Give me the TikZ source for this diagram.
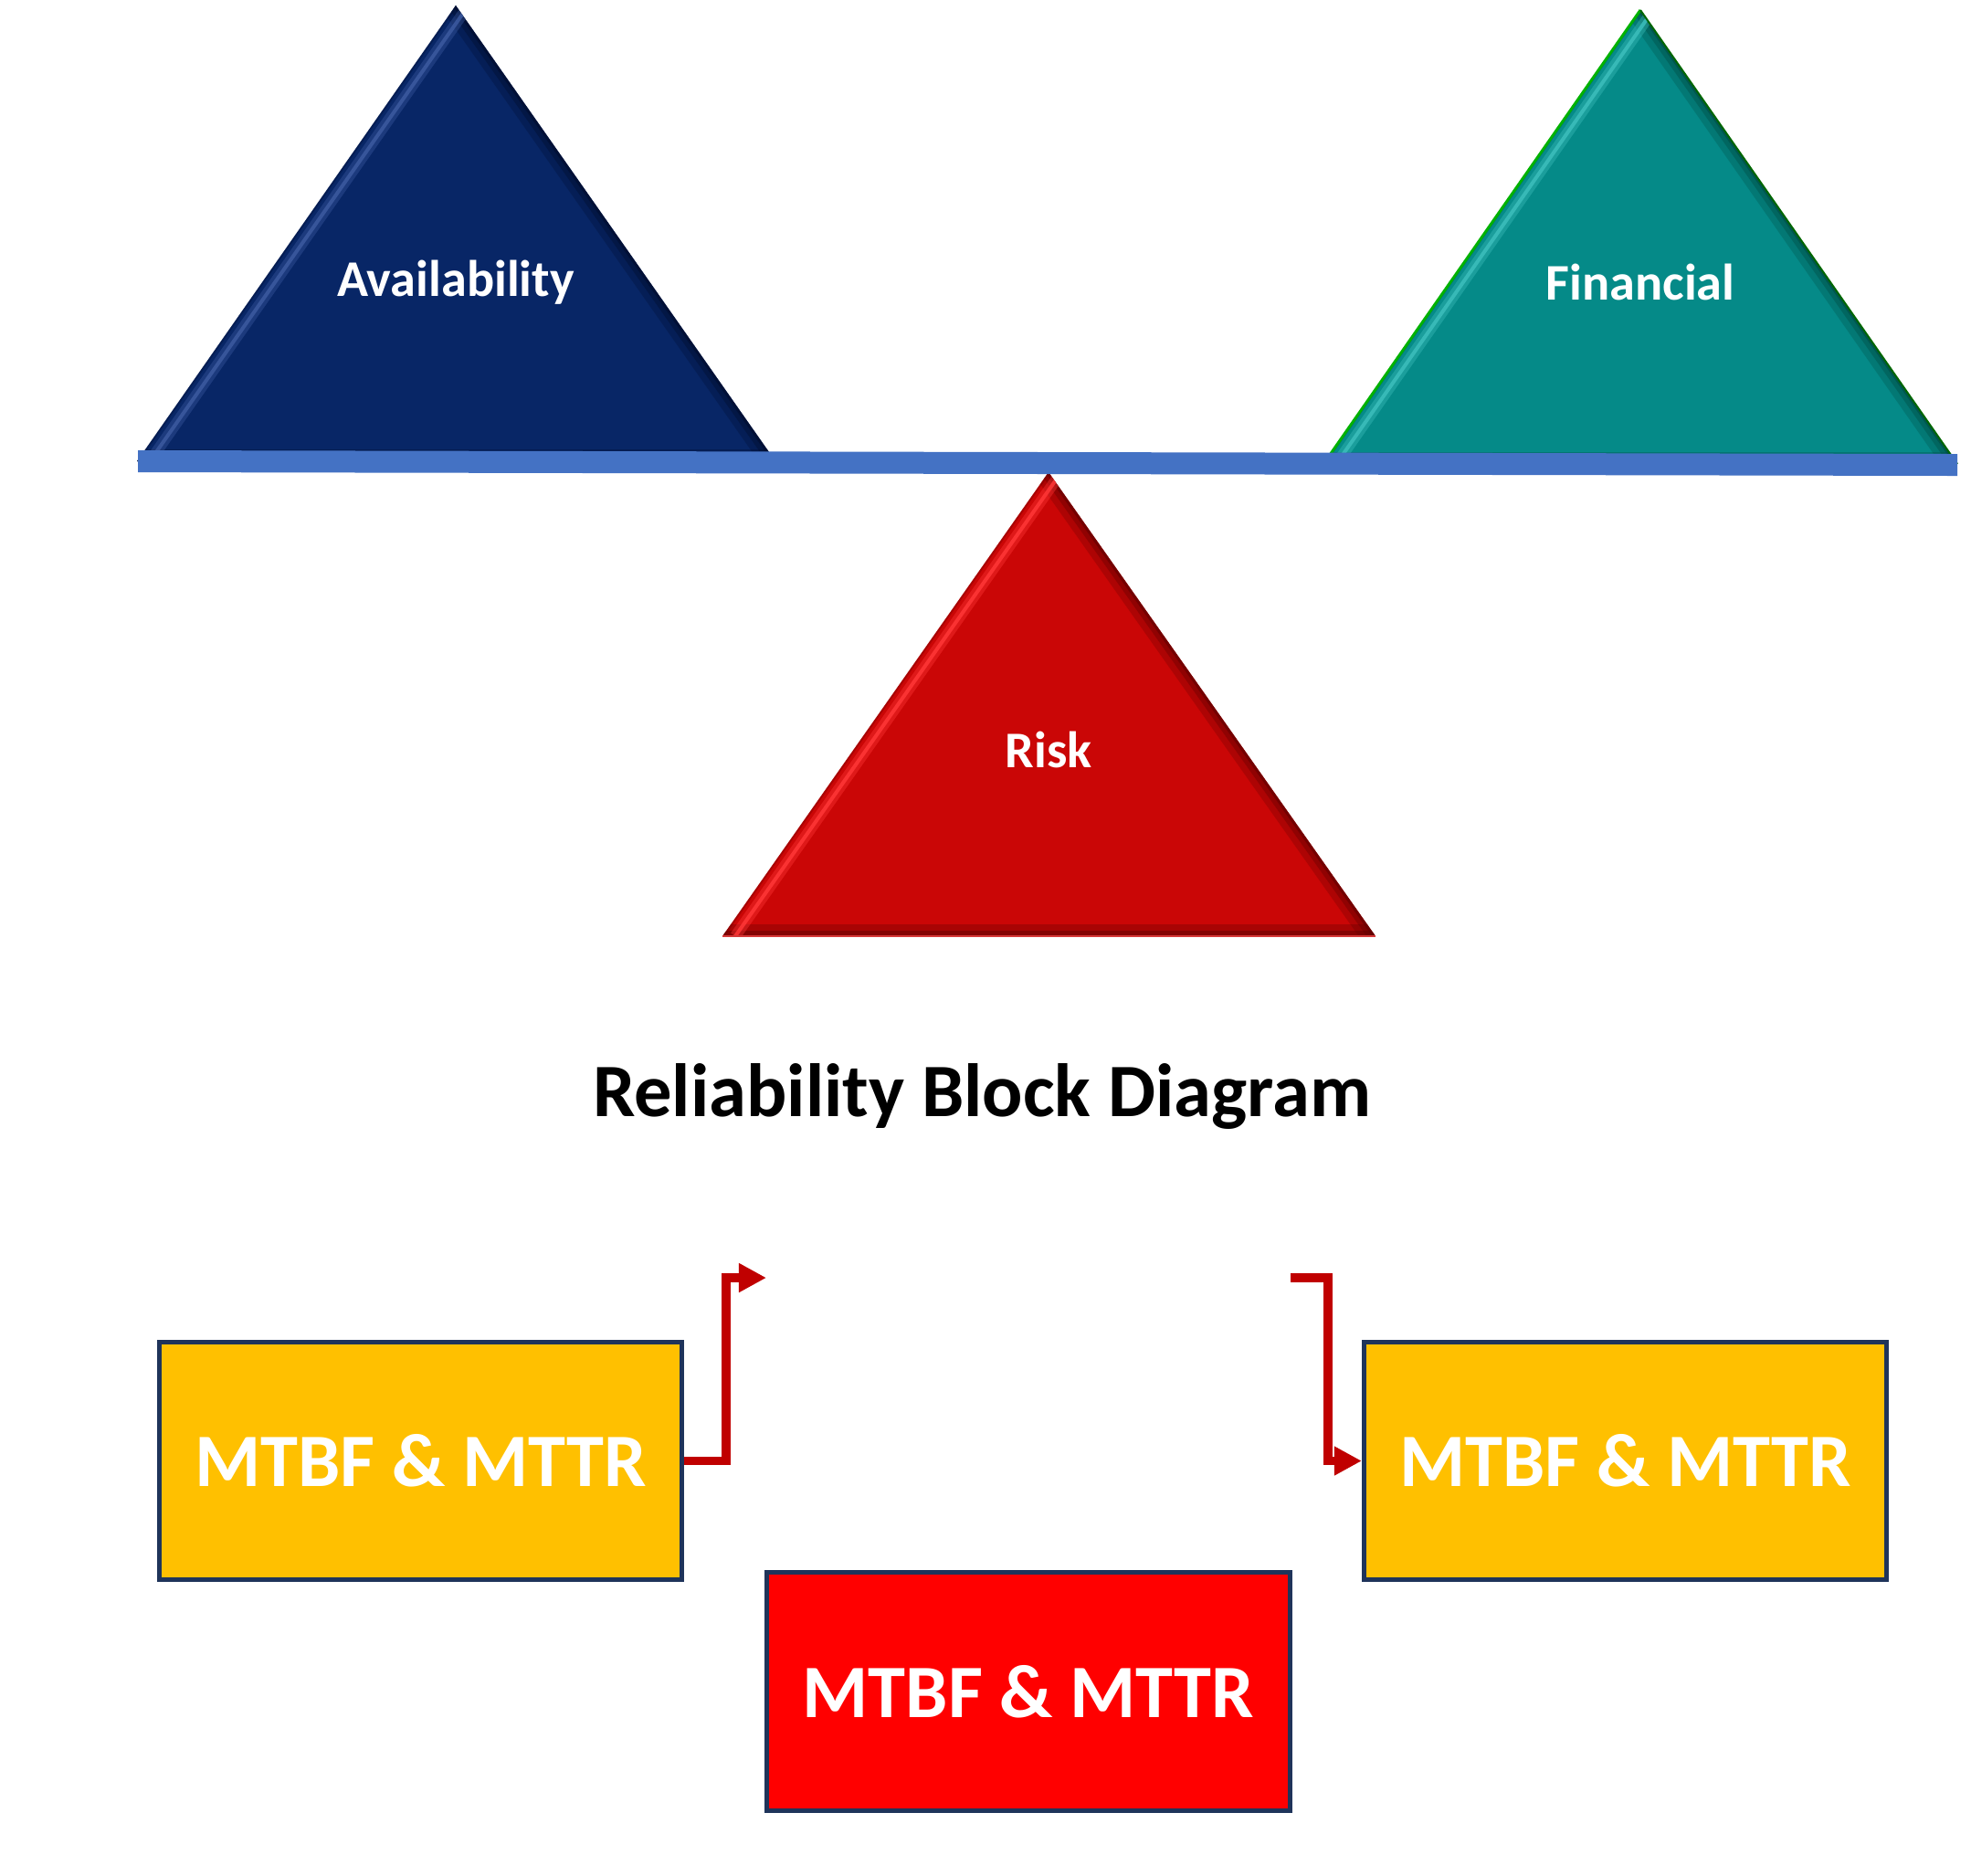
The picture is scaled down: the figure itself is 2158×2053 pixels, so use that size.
\documentclass[tikz,border=0pt]{standalone}
\usepackage{fontspec}
\setmainfont{Carlito}
\usetikzlibrary{arrows.meta}
\definecolor{availc}{RGB}{8,38,102}
\definecolor{availl}{RGB}{60,90,160}
\definecolor{availd}{RGB}{0,10,40}
\definecolor{finc}{RGB}{5,138,136}
\definecolor{finl}{RGB}{60,190,188}
\definecolor{find}{RGB}{0,70,60}
\definecolor{riskc}{RGB}{202,6,6}
\definecolor{riskl}{RGB}{255,55,55}
\definecolor{riskd}{RGB}{90,0,0}
\definecolor{beamc}{RGB}{68,114,196}
\definecolor{boxy}{RGB}{255,192,0}
\definecolor{boxr}{RGB}{255,0,0}
\definecolor{boxline}{RGB}{31,52,90}
\definecolor{arrc}{RGB}{192,0,0}
\newcommand{\bevtri}[6]{%
  \fill[#4] #1 -- #2 -- #3 -- cycle;
  \begin{scope}
    \clip #1 -- #2 -- #3 -- cycle;
    \draw[#6, opacity=.25, line width=0.30cm] #1 -- #3;
    \draw[#6, opacity=.35, line width=0.16cm] #1 -- #3;
    \draw[#6, opacity=.5, line width=0.06cm] #1 -- #3;
    \draw[#6, opacity=.3, line width=0.26cm] #2 -- #3;
    \draw[#6, opacity=.45, line width=0.12cm] #2 -- #3;
    \draw[#6, opacity=.3, line width=0.04cm] #1 -- #2;
    \draw[#5, opacity=.4, line width=0.12cm, shift={(14,0)}] #1 -- #2;
    \draw[#5, opacity=.85, line width=0.04cm, shift={(14,0)}] #1 -- #2;
  \end{scope}}
\begin{document}
\begin{tikzpicture}[x=0.01cm,y=-0.01cm,
  trilabel/.style={text=white,font=\fontsize{16pt}{19pt}\selectfont\bfseries,inner sep=0pt,anchor=base},
  mbox/.style={draw=boxline,line width=0.05cm,minimum width=5.72cm,minimum height=2.60cm,inner sep=0pt,
    text=white,font=\fontsize{23.5pt}{27pt}\selectfont\bfseries},
  elbow/.style={draw=arrc,line width=0.095cm,line join=miter,-{Triangle[length=0.30cm,width=0.30cm]}}]
\useasboundingbox[fill=white] (0,0) rectangle (2158,2053);
% triangles
\bevtri{(499,6)}{(150,505)}{(849,505)}{availc}{availl}{availd}
\bevtri{(1796,11)}{(1449,508)}{(2143,508)}{finc}{finl}{find}
\draw[green!70!black, line width=0.03cm] (1449,508) -- (1796,11);
\draw[green!40!black, line width=0.02cm] (1796,11) -- (2143,508);
\bevtri{(1148,517)}{(791,1025)}{(1506,1025)}{riskc}{riskl}{riskd}
\draw[riskc!80!white, line width=0.02cm] (791,1025) -- (1506,1025);
% beam
\fill[beamc] (151,493) -- (2143,497) -- (2143,521) -- (151,517) -- cycle;
% labels
\node[trilabel] (avail) at (499,324) {Availability};
\node[trilabel] (fin) at (1796,328) {Financial};
\node[trilabel] (risk) at (1148,840) {Risk};
\node[anchor=base,inner sep=0pt,font=\fontsize{23.5pt}{27pt}\selectfont\bfseries] (title) at (1075,1222) {Reliability Block Diagram};
% boxes
\node[mbox,fill=boxy] (lbox) at (460.5,1599.5) {MTBF \& MTTR};
\node[mbox,fill=boxy] (rbox) at (1779.5,1599.5) {MTBF \& MTTR};
\node[mbox,fill=boxr] (bbox) at (1126,1852) {MTBF \& MTTR};
% connectors
\coordinate (a1end) at (839,1399);
\coordinate (a2start) at (1413,1399);
\path[elbow] (lbox.east) -- ++(46,0) |- (a1end);
\path[elbow] (a2start) -- (1454,1399) |- (rbox.west);
\end{tikzpicture}
\end{document}
